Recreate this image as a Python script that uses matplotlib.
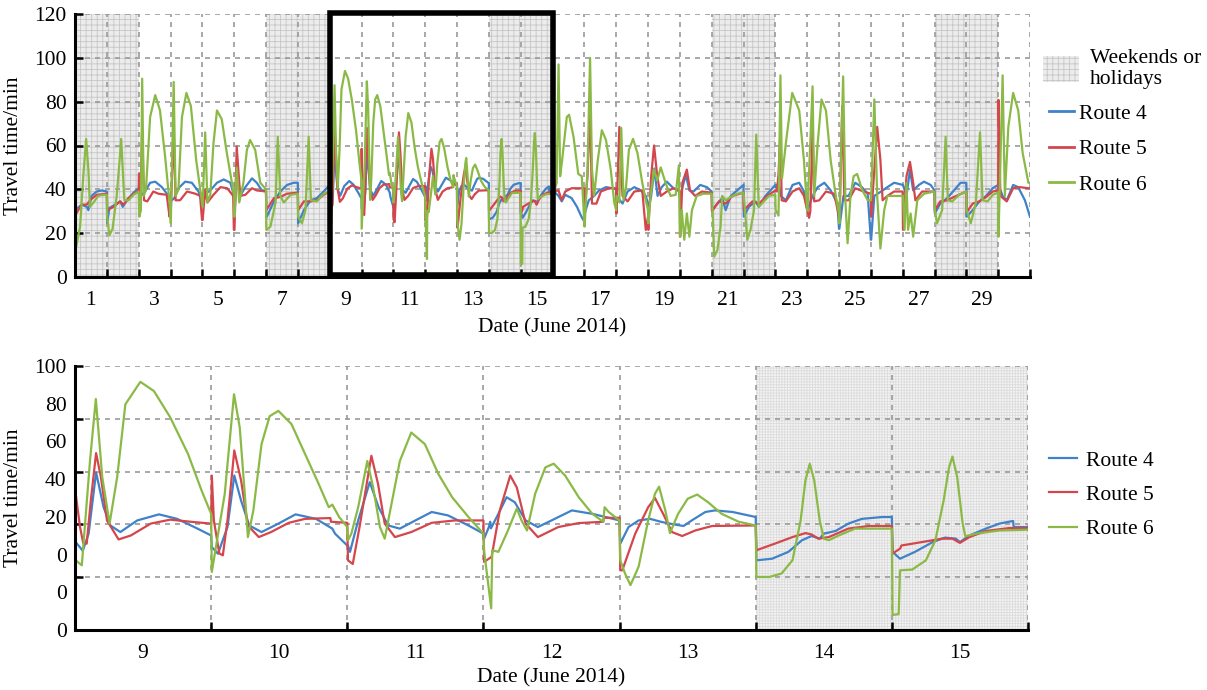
import numpy as np
import matplotlib
matplotlib.use("Agg")
import matplotlib.pyplot as plt
from matplotlib.patches import Rectangle, Patch
from matplotlib.lines import Line2D

plt.rcParams['font.family'] = 'serif'
plt.rcParams['font.serif'] = ['Liberation Serif', 'Nimbus Roman', 'Times New Roman', 'DejaVu Serif']
plt.rcParams['hatch.linewidth'] = 0.6

# x = days elapsed in June 2014 (day d spans d-1 .. d), y = travel time (min)
route4 = [  # blue
    (0.0, 30.5), (0.21, 33), (0.37, 32), (0.42, 30.5), (0.52, 37), (0.68, 39), (0.84, 39.5), (1.0, 39),
    (1.01, 24.5), (1.08, 31.5), (1.26, 33), (1.42, 34.5), (1.50, 32), (1.63, 35), (1.84, 38.5), (2.0, 40.5),
    (2.1, 37.5), (2.2, 39), (2.36, 43), (2.52, 43.5), (2.73, 41), (2.94, 37), (3.0, 34.5),
    (3.12, 36), (3.25, 40.5), (3.46, 43.5), (3.67, 43), (3.88, 39), (4.0, 33.5),
    (4.01, 32), (4.09, 38), (4.25, 39.5), (4.46, 43), (4.67, 44.5), (4.88, 43), (5.0, 37),
    (5.01, 27.5), (5.08, 50), (5.19, 37), (5.35, 41), (5.56, 45), (5.71, 43), (5.87, 39.5), (6.0, 39.5),
    (6.01, 27), (6.25, 34.5), (6.45, 39), (6.66, 42), (6.87, 43), (7.0, 43),
    (7.01, 24.5), (7.19, 30.5), (7.40, 35), (7.60, 36), (7.81, 39), (8.0, 42),
    (8.005, 33.3), (8.057, 30), (8.10, 36.5), (8.155, 59.7), (8.21, 46.5), (8.26, 39.6), (8.333, 37.1),
    (8.457, 41.5), (8.617, 43.8), (8.75, 42.1), (8.90, 38.4), (9.0, 35.8),
    (9.005, 31.4), (9.05, 28.9), (9.12, 39), (9.17, 58.5), (9.22, 49), (9.28, 39.6), (9.37, 37.1),
    (9.494, 40.3), (9.62, 43.8), (9.77, 42.1), (9.89, 38.4), (9.91, 36.5), (10.0, 32),
    (10.005, 32), (10.02, 29.6), (10.08, 41.5), (10.165, 56), (10.23, 46.5), (10.30, 39.6), (10.386, 38.4),
    (10.50, 41.5), (10.62, 44.7), (10.74, 43.4), (10.89, 39.6), (11.0, 36.5),
    (11.005, 34.6), (11.04, 39), (11.05, 41), (11.055, 38.5), (11.11, 44), (11.17, 50.3), (11.23, 48.4),
    (11.31, 41.5), (11.40, 39), (11.50, 41.5), (11.65, 45.3), (11.80, 44), (12.0, 41.5),
    (12.005, 32.7), (12.066, 39), (12.14, 41.5), (12.225, 42.1), (12.31, 40.9), (12.41, 39.9), (12.47, 39.4),
    (12.53, 41.5), (12.63, 44.7), (12.70, 45.3), (12.83, 44.7), (13.0, 42.8),
    (13.005, 26.4), (13.12, 27), (13.24, 29.6), (13.34, 34), (13.41, 35.6), (13.47, 34.6), (13.50, 36.5),
    (13.586, 37.5), (13.68, 40.3), (13.78, 42.1), (13.93, 42.8), (14.0, 42.8),
    (14.005, 29.6), (14.06, 27), (14.17, 29.6), (14.30, 33.3), (14.39, 35), (14.47, 34.6), (14.50, 33.3),
    (14.57, 35.8), (14.69, 38.4), (14.79, 40.3), (14.89, 41.3), (14.895, 39), (15.0, 39),
    (15.01, 39.5), (15.19, 37), (15.29, 34.5), (15.40, 37.5), (15.60, 36), (15.77, 32), (15.91, 27.5), (16.0, 25.3),
    (16.01, 29), (16.14, 35), (16.31, 37), (16.46, 39.5), (16.68, 41), (16.88, 40.5), (17.0, 40),
    (17.01, 37), (17.20, 33.5), (17.36, 39), (17.57, 41), (17.78, 39.5), (17.93, 37), (18.0, 33.5),
    (18.01, 30.5), (18.10, 37), (18.20, 49.5), (18.30, 37), (18.43, 41), (18.59, 43.5), (18.80, 40.5), (18.97, 39.5), (19.0, 37),
    (19.01, 37), (19.12, 43), (19.19, 46.5), (19.30, 39.5), (19.43, 39), (19.64, 42), (19.85, 41), (20.0, 39),
    (20.01, 30.5), (20.18, 33.5), (20.33, 36), (20.44, 30.5), (20.60, 37), (20.80, 39.5), (21.0, 42),
    (21.01, 27.5), (21.17, 32), (21.38, 34.5), (21.48, 32), (21.69, 37), (22.0, 42),
    (22.01, 41), (22.10, 43), (22.17, 37), (22.33, 35), (22.54, 42), (22.75, 43), (22.90, 39), (23.0, 30.5),
    (23.01, 30.5), (23.17, 37), (23.33, 41), (23.54, 43), (23.74, 39.5), (23.95, 33.5), (24.0, 22),
    (24.01, 22), (24.14, 37), (24.30, 37), (24.51, 43), (24.72, 41), (24.90, 38), (25.0, 17),
    (25.01, 17), (25.11, 37), (25.32, 39), (25.52, 41), (25.73, 43), (26.0, 42),
    (26.01, 42), (26.12, 37), (26.23, 49), (26.33, 39.5), (26.51, 42), (26.67, 43.5), (26.88, 42), (27.0, 39.5),
    (27.01, 29), (27.18, 33.5), (27.40, 36), (27.61, 39.5), (27.82, 43), (28.0, 43),
    (28.01, 27.5), (28.20, 30.5), (28.41, 34.5), (28.62, 37), (28.83, 40.5), (29.0, 42),
    (29.01, 42), (29.14, 37), (29.27, 35), (29.47, 42), (29.63, 41), (29.84, 35), (30.0, 27.5),
]

route5 = [  # red
    (0.0, 28), (0.21, 33), (0.37, 33), (0.47, 35), (0.68, 37.5), (1.0, 38),
    (1.01, 30.5), (1.21, 32), (1.42, 34.5), (1.52, 33), (1.68, 36), (1.94, 39), (2.0, 39.5),
    (2.01, 47), (2.05, 35), (2.11, 67), (2.17, 35), (2.27, 34.5), (2.46, 39), (2.62, 38), (2.88, 37.5), (2.97, 27.5),
    (3.01, 30.5), (3.10, 67), (3.16, 35), (3.30, 35), (3.52, 39), (3.78, 38), (3.93, 37), (3.99, 26),
    (4.01, 26), (4.09, 40), (4.16, 34), (4.35, 37.5), (4.57, 41), (4.78, 40.5), (4.97, 37), (4.99, 21.5),
    (5.01, 21.5), (5.08, 59.5), (5.19, 37), (5.35, 37.5), (5.56, 40.5), (5.71, 39.5), (6.0, 39),
    (6.01, 30.5), (6.25, 36), (6.45, 36.5), (6.66, 38), (7.0, 38.5),
    (7.01, 30.5), (7.19, 34.5), (7.40, 34.5), (7.60, 35), (7.81, 37.5), (8.0, 39),
    (8.005, 51.6), (8.037, 39), (8.06, 33), (8.086, 32.7), (8.116, 49), (8.155, 67), (8.19, 58), (8.235, 41.5),
    (8.32, 34.3), (8.41, 35.8), (8.556, 40.3), (8.70, 41.8), (8.85, 41), (9.0, 40.3),
    (9.005, 58.5), (9.02, 41.5), (9.06, 29), (9.086, 28.3), (9.12, 41.5), (9.17, 68), (9.22, 56.6), (9.27, 39.6),
    (9.35, 35.2), (9.44, 37.1), (9.57, 40.6), (9.69, 42.1), (9.876, 42.4), (9.88, 41), (10.0, 40.6),
    (10.005, 26.4), (10.04, 25), (10.09, 39), (10.177, 66), (10.226, 55.3), (10.275, 40.3), (10.35, 35.2),
    (10.47, 37.1), (10.62, 40.6), (10.79, 41.5), (11.0, 41.5),
    (11.005, 25.8), (11.06, 27.7), (11.12, 45.3), (11.197, 58.5), (11.245, 54), (11.31, 40.3), (11.40, 35.2),
    (11.55, 39), (11.70, 40.5), (11.88, 41), (11.885, 42.5), (12.0, 42.5),
    (12.005, 22.6), (12.02, 22.6), (12.115, 36.5), (12.21, 46.5), (12.26, 50), (12.32, 44), (12.385, 37.1),
    (12.46, 35.6), (12.556, 37.7), (12.68, 39.4), (13.0, 39.6),
    (13.005, 30.2), (13.14, 32.7), (13.27, 35.2), (13.365, 36.7), (13.41, 36.2), (13.46, 34.6), (13.537, 35.2),
    (13.68, 38.4), (13.83, 39.4), (14.0, 39.4),
    (14.005, 29), (14.06, 30.8), (14.07, 32), (14.22, 33.3), (14.37, 34.6), (14.445, 34.6), (14.50, 33),
    (14.57, 35.2), (14.69, 37.5), (14.86, 38.6), (15.0, 38.6),
    (15.01, 39), (15.19, 39.5), (15.29, 35), (15.40, 39), (15.60, 40.5), (16.0, 40.5),
    (16.01, 30.5), (16.10, 46), (16.18, 78), (16.24, 33.5), (16.38, 33.5), (16.52, 39), (16.78, 40.5), (17.0, 40.5),
    (17.01, 29), (17.10, 68.5), (17.20, 37), (17.36, 34.5), (17.57, 39), (17.82, 39.5), (17.93, 21.5), (18.0, 27.5),
    (18.01, 21.5), (18.10, 46), (18.19, 60), (18.29, 46), (18.40, 37), (18.59, 39), (18.80, 40.5), (19.0, 39),
    (19.01, 18.4), (19.08, 43), (19.22, 49), (19.32, 39.5), (19.48, 37), (19.69, 39), (20.0, 38.5),
    (20.01, 30), (20.23, 34.5), (20.44, 33.5), (20.65, 37), (21.0, 38.5),
    (21.01, 30.5), (21.28, 34.5), (21.48, 33.5), (21.75, 37), (22.0, 39.5),
    (22.05, 39), (22.10, 47), (22.16, 67), (22.20, 35), (22.33, 34.5), (22.54, 39), (22.75, 40.5), (22.90, 37), (23.06, 27),
    (23.10, 30), (23.17, 68.5), (23.22, 34.5), (23.38, 35), (23.59, 39), (23.85, 38), (24.0, 27.5),
    (24.02, 27.5), (24.10, 78), (24.17, 35), (24.30, 35), (24.51, 40.5), (24.77, 39), (25.0, 38),
    (25.01, 27.5), (25.20, 68.5), (25.30, 53.5), (25.37, 35), (25.52, 37), (25.73, 39), (26.0, 39),
    (26.01, 21.5), (26.12, 46), (26.23, 52.5), (26.33, 43), (26.40, 35), (26.61, 39), (27.0, 39),
    (27.01, 30.5), (27.18, 34.5), (27.40, 35), (27.61, 36.5), (28.0, 39),
    (28.01, 29.5), (28.20, 33.5), (28.41, 34.5), (28.62, 36.5), (28.83, 39), (29.0, 39.5),
    (29.01, 80.8), (29.07, 37), (29.27, 34.5), (29.47, 40.5), (29.68, 41), (29.95, 40.5), (30.0, 40.5),
]

route6 = [  # green
    (0.0, 11), (0.16, 23), (0.26, 46), (0.35, 63), (0.42, 49), (0.47, 32), (0.58, 34), (0.73, 37), (0.89, 37.5), (1.0, 37.5),
    (1.01, 27.5), (1.08, 19), (1.18, 22), (1.31, 37), (1.40, 53), (1.45, 63), (1.50, 49), (1.55, 35), (1.68, 35), (1.84, 37.5), (2.0, 39),
    (2.02, 27.5), (2.07, 30.5), (2.11, 90.5), (2.16, 37), (2.23, 40), (2.36, 73), (2.52, 83), (2.67, 76), (2.83, 55), (2.97, 34),
    (3.01, 24.5), (3.10, 89), (3.16, 37), (3.25, 40), (3.36, 73), (3.50, 84), (3.64, 78), (3.81, 53), (3.96, 37),
    (4.01, 32), (4.09, 66), (4.16, 34), (4.25, 37.5), (4.35, 61), (4.46, 76), (4.61, 72), (4.77, 56.5), (4.93, 43), (5.0, 37),
    (5.01, 27.5), (5.08, 50), (5.16, 34), (5.29, 43), (5.40, 58), (5.50, 62.5), (5.66, 58), (5.82, 43), (6.0, 40),
    (6.01, 21.5), (6.14, 23), (6.30, 34), (6.37, 64), (6.45, 37), (6.56, 34), (6.77, 37.5), (7.0, 38),
    (7.01, 27.5), (7.13, 24.5), (7.24, 30.5), (7.34, 64), (7.41, 35), (7.60, 34.5), (7.81, 38), (8.0, 39),
    (8.005, 26.4), (8.05, 24.5), (8.11, 64), (8.153, 87.5), (8.20, 58), (8.254, 40.3), (8.31, 58), (8.37, 85.5),
    (8.48, 94), (8.58, 90.5), (8.70, 80.5), (8.83, 66.7), (8.93, 52.8), (9.0, 44),
    (9.005, 22), (9.10, 51.6), (9.168, 89.3), (9.21, 76.7), (9.247, 51.6), (9.27, 35.2), (9.31, 45.3), (9.37, 70.4),
    (9.43, 81), (9.494, 83), (9.59, 78), (9.69, 66.7), (9.79, 55.3), (9.864, 46.5), (9.89, 47.5), (9.94, 42.8), (10.0, 39),
    (10.005, 34), (10.03, 36.5), (10.08, 46.5), (10.147, 64), (10.19, 54), (10.24, 39), (10.275, 34.6), (10.32, 46.5),
    (10.386, 64), (10.47, 74.8), (10.57, 70.4), (10.67, 59), (10.77, 50.3), (10.89, 42.8), (11.0, 36.5),
    (11.005, 30), (11.057, 8.2), (11.065, 30.2), (11.11, 29.6), (11.18, 37.7), (11.245, 46), (11.28, 41.5), (11.32, 37.7),
    (11.38, 51.6), (11.455, 61.6), (11.516, 63), (11.6, 58.5), (11.7, 50.3), (11.8, 44), (11.88, 41), (11.89, 46.5),
    (11.92, 44.7), (12.0, 41.5),
    (12.005, 26.4), (12.04, 21.4), (12.08, 17), (12.14, 24), (12.21, 41.5), (12.26, 51.6), (12.29, 54.3), (12.336, 45.3),
    (12.37, 36.7), (12.43, 44), (12.5, 49.7), (12.57, 51.3), (12.65, 48.4), (12.75, 44), (12.875, 41), (13.0, 39.6),
    (13.005, 20.1), (13.1, 20.1), (13.19, 21.4), (13.27, 26.4), (13.33, 41.5), (13.365, 56.6), (13.397, 63), (13.43, 56.6),
    (13.47, 41.5), (13.5, 34.6), (13.537, 34), (13.61, 35.8), (13.73, 38.4), (13.88, 38.4), (14.0, 38.4),
    (14.005, 5.7), (14.05, 6), (14.06, 22.6), (14.15, 22.9), (14.25, 26.4), (14.32, 34), (14.38, 49), (14.42, 61.6),
    (14.445, 65.7), (14.48, 57.9), (14.52, 40.3), (14.54, 35.5), (14.62, 36.5), (14.79, 37.7), (15.0, 38),
    (15.01, 36.7), (15.13, 43), (15.19, 97), (15.24, 46), (15.30, 53), (15.45, 73), (15.52, 74), (15.66, 64), (15.81, 47), (15.92, 46), (16.0, 24.5),
    (16.01, 23), (16.10, 49), (16.18, 100), (16.24, 49), (16.31, 37), (16.42, 53), (16.55, 67), (16.68, 62.5), (16.83, 49), (16.94, 34), (17.0, 30.5),
    (17.01, 37), (17.10, 34), (17.16, 68), (17.23, 35), (17.31, 41), (17.40, 58), (17.53, 63), (17.67, 56.5), (17.82, 43), (17.93, 35), (18.0, 30.5),
    (18.01, 24.5), (18.08, 37), (18.19, 49), (18.29, 44), (18.40, 50), (18.55, 43), (18.71, 37), (18.87, 37.5), (18.97, 51), (19.0, 18.4),
    (19.01, 18.4), (19.06, 30.5), (19.14, 17), (19.22, 29), (19.30, 18.4), (19.38, 30.5), (19.53, 37), (19.74, 38), (20.0, 38),
    (20.01, 37), (20.08, 9.3), (20.18, 12.3), (20.28, 23), (20.33, 37), (20.44, 35), (20.65, 37), (20.80, 38), (21.0, 38.5),
    (21.01, 37), (21.12, 17), (21.22, 21.5), (21.33, 30.5), (21.40, 65), (21.48, 32), (21.64, 34.5), (21.80, 37), (22.0, 37.5),
    (22.01, 30.5), (22.10, 28), (22.16, 92), (22.21, 45), (22.33, 61), (22.53, 84), (22.75, 76), (22.90, 53), (23.0, 30.5),
    (23.01, 30.5), (23.17, 87), (23.22, 37), (23.33, 61), (23.45, 81), (23.59, 76), (23.74, 53), (23.90, 37), (24.0, 29),
    (24.01, 24.5), (24.13, 91.5), (24.20, 35), (24.27, 15.4), (24.36, 37), (24.46, 46), (24.57, 47), (24.72, 40), (24.90, 35), (25.0, 35),
    (25.01, 37), (25.11, 81), (25.20, 37), (25.30, 13), (25.42, 30.5), (25.52, 37), (25.73, 37), (26.0, 37),
    (26.01, 37), (26.06, 21.5), (26.12, 43), (26.17, 21.5), (26.25, 29), (26.33, 18.4), (26.46, 35), (26.67, 38), (27.0, 39),
    (27.01, 30.5), (27.08, 24.5), (27.24, 30.5), (27.35, 64), (27.42, 35), (27.56, 34.5), (27.77, 37.5), (28.0, 39),
    (28.01, 30.5), (28.14, 24.5), (28.30, 34), (28.43, 66), (28.51, 35), (28.67, 34.5), (28.83, 37.5), (29.0, 38.5),
    (29.01, 18.4), (29.14, 92), (29.21, 37), (29.32, 68.6), (29.47, 84), (29.63, 76), (29.77, 56.5), (29.87, 49), (29.95, 43), (30.0, 43),
]

holidays = [1, 2, 7, 8, 14, 15, 21, 22, 28, 29]
top_day_labels = [1, 3, 5, 7, 9, 11, 13, 15, 17, 19, 21, 23, 25, 27, 29]
zoom_days = [9, 10, 11, 12, 13, 14, 15]
zoom_holidays = [14, 15]
bottom_ylabels = ["0", "0", "0", "20", "40", "60", "80", "100"]

colors = {"Route 4": "#3f82c9", "Route 5": "#d5454c", "Route 6": "#8aba45"}
series = {"Route 4": route4, "Route 5": route5, "Route 6": route6}

FS = 15.5
grid_kw = dict(color="#9a9a9a", linestyle=(0, (3, 3)), linewidth=1.2)


def style_axes(ax):
    for s in ["top", "right"]:
        ax.spines[s].set_visible(False)
    for s in ["left", "bottom"]:
        ax.spines[s].set_linewidth(2.2)
    ax.set_axisbelow(True)
    ax.grid(True, which="major", **grid_kw)
    ax.tick_params(which="major", direction="in", length=6, width=1.8, labelsize=FS)
    ax.tick_params(which="minor", length=0, labelsize=FS, pad=10)
    ax.tick_params(axis="x", which="major", labelbottom=False)


fig = plt.figure(figsize=(12.07, 6.90), dpi=100)

# ---- top panel: whole month
ax1 = fig.add_axes([75 / 1207, 1 - 277 / 690, 955 / 1207, 263 / 690])
for d in holidays:
    ax1.axvspan(d - 1, d, facecolor="#ececec", edgecolor="#c6c6c6", hatch="+++", linewidth=0, zorder=0)
for name, pts in series.items():
    xy = np.array(pts)
    ax1.plot(xy[:, 0], xy[:, 1], color=colors[name], lw=1.6, zorder=2)
ax1.set_xlim(0, 30)
ax1.set_ylim(0, 120)
ax1.set_xticks(range(0, 31))
ax1.set_xticks([d - 0.5 for d in top_day_labels], minor=True)
ax1.set_xticklabels([str(d) for d in top_day_labels], minor=True)
ax1.set_yticks(range(0, 121, 20))
style_axes(ax1)
ax1.tick_params(axis="y", which="major", pad=6)
ax1.set_xlabel("Date (June 2014)", fontsize=FS, labelpad=6)
ax1.set_ylabel("Travel time/min", fontsize=FS, labelpad=8)
ax1.add_patch(Rectangle((8, 0.9), 7, 119.5, fill=False, edgecolor="black", lw=4, zorder=5, clip_on=False))

hol_handle = Patch(facecolor="#ececec", edgecolor="#c6c6c6", hatch="+++", linewidth=0)
fig.legend([hol_handle], ["Weekends or\nholidays"], loc="upper left",
           bbox_to_anchor=(1034 / 1207, 1 - 40 / 690), frameon=False, fontsize=FS,
           handlelength=1.7, handleheight=1.5, handletextpad=0.5, borderaxespad=0)
line_handles = [Line2D([], [], color=colors[n], lw=2) for n in series]
fig.legend(line_handles, list(series), loc="upper left",
           bbox_to_anchor=(1040 / 1207, 1 - 95 / 690), frameon=False, fontsize=FS,
           handlelength=1.2, handletextpad=0.2, labelspacing=0.72, borderaxespad=0)

# ---- bottom panel: June 9-15 in detail
ax2 = fig.add_axes([75 / 1207, 1 - 630 / 690, 953 / 1207, 264 / 690])
for d in zoom_holidays:
    ax2.axvspan(d - 1, d, facecolor="#f4f4f4", edgecolor="#dcdcdc", hatch="++++++", linewidth=0, zorder=0)
for name, pts in series.items():
    xy = np.array(pts)
    ax2.plot(xy[:, 0], xy[:, 1], color=colors[name], lw=1.6, zorder=2, label=name)
ax2.yaxis.remove_overlapping_locs = False
ax2.set_xlim(zoom_days[0] - 1, zoom_days[-1])
ax2.set_ylim(0, 100)
ax2.set_xticks(range(zoom_days[0] - 1, zoom_days[-1] + 1))
ax2.set_xticks([d - 0.5 for d in zoom_days], minor=True)
ax2.set_xticklabels([str(d) for d in zoom_days], minor=True)
ax2.set_yticks(range(0, 101, 20))
ax2.set_yticklabels([])
ax2.set_yticks(np.linspace(0, 100, len(bottom_ylabels)), minor=True)
ax2.set_yticklabels(bottom_ylabels, minor=True)
style_axes(ax2)
ax2.tick_params(axis="y", which="minor", pad=6)
ax2.set_xlabel("Date (June 2014)", fontsize=FS, labelpad=4)
ax2.set_ylabel("Travel time/min", fontsize=FS, labelpad=8)
ax2.legend(loc="center left", bbox_to_anchor=(1040 / 1207, 1 - 495 / 690),
           bbox_transform=fig.transFigure, frameon=False, fontsize=FS,
           handlelength=1.3, handletextpad=0.45, labelspacing=0.65, borderaxespad=0)

fig.savefig("out.png", dpi=100)
